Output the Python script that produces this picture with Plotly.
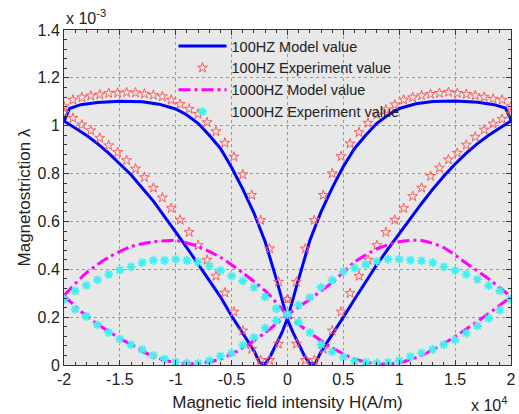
import plotly.graph_objects as go

# ---- 100 Hz model curve (H in 1e4 A/m, lambda in 1e-3) ----
h_model100_up = [-2.00, -1.95, -1.85, -1.70, -1.50, -1.30, -1.15, -1.00, -0.90, -0.80,
                 -0.70, -0.60, -0.50, -0.40, -0.30, -0.20, -0.10, 0.00,
                 0.05, 0.10, 0.15, 0.20, 0.25, 0.30,
                 0.40, 0.50, 0.60, 0.70, 0.80, 0.90, 1.00, 1.10, 1.20, 1.30, 1.40, 1.50,
                 1.60, 1.70, 1.80, 1.90, 2.00]
lam_model100_up = [1.018, 1.072, 1.088, 1.097, 1.102, 1.100, 1.090, 1.070, 1.045, 1.010,
                   0.960, 0.905, 0.825, 0.735, 0.635, 0.515, 0.360, 0.190,
                   0.135, 0.090, 0.040, 0.005, 0.008, 0.055,
                   0.125, 0.200, 0.275, 0.350, 0.420, 0.485, 0.550, 0.615, 0.675, 0.735, 0.790, 0.840,
                   0.885, 0.925, 0.960, 0.990, 1.020]

h_model100_down = [-2.00, -1.90, -1.80, -1.70, -1.60, -1.50, -1.40, -1.30, -1.20, -1.10,
                   -1.00, -0.90, -0.80, -0.70, -0.60, -0.50, -0.40, -0.30,
                   -0.25, -0.20, -0.15, -0.10, -0.05, 0.00,
                   0.10, 0.20, 0.30, 0.40, 0.50, 0.60, 0.70, 0.80, 0.90, 1.00,
                   1.15, 1.30, 1.50, 1.70, 1.85, 1.95, 2.00]
lam_model100_down = [1.020, 0.990, 0.960, 0.925, 0.885, 0.840, 0.795, 0.740, 0.685, 0.620,
                     0.555, 0.490, 0.425, 0.355, 0.285, 0.205, 0.130, 0.060,
                     0.010, 0.004, 0.040, 0.090, 0.135, 0.195,
                     0.360, 0.520, 0.640, 0.740, 0.830, 0.905, 0.960, 1.010, 1.045, 1.072,
                     1.092, 1.101, 1.103, 1.098, 1.088, 1.074, 1.025]

# ---- 100 Hz measured points ----
h_exp100 = [-2.00, -1.92, -1.84, -1.76, -1.68, -1.60, -1.52, -1.44, -1.36, -1.28,
            -1.20, -1.12, -1.04, -0.96, -0.88, -0.80, -0.72, -0.64, -0.56, -0.48,
            -0.40, -0.32, -0.24, -0.16, -0.08, 0.00, 0.08, 0.16, 0.24, 0.32,
            0.40, 0.48, 0.56, 0.64, 0.72, 0.80, 0.88, 0.96, 1.04, 1.12,
            1.20, 1.28, 1.36, 1.44, 1.52, 1.60, 1.68, 1.76, 1.84, 1.92, 2.00]
lam_exp100_up = [1.080, 1.108, 1.118, 1.125, 1.130, 1.136, 1.137, 1.139, 1.138, 1.133,
                 1.128, 1.122, 1.108, 1.090, 1.070, 1.049, 1.014, 0.976, 0.928, 0.870,
                 0.796, 0.710, 0.605, 0.486, 0.347, 0.275, 0.088, 0.020, 0.020, 0.067,
                 0.143, 0.222, 0.300, 0.372, 0.439, 0.500, 0.555, 0.606, 0.655, 0.705,
                 0.740, 0.789, 0.824, 0.858, 0.886, 0.920, 0.953, 0.983, 1.008, 1.028, 1.050]
lam_exp100_down = [1.053, 1.032, 1.004, 0.980, 0.949, 0.917, 0.889, 0.855, 0.820, 0.784,
                   0.740, 0.699, 0.655, 0.606, 0.555, 0.500, 0.439, 0.372, 0.302, 0.222,
                   0.143, 0.067, 0.020, 0.020, 0.088, 0.275, 0.347, 0.486, 0.605, 0.710,
                   0.800, 0.872, 0.925, 0.972, 1.011, 1.046, 1.067, 1.088, 1.108, 1.118,
                   1.126, 1.132, 1.136, 1.140, 1.136, 1.132, 1.126, 1.120, 1.112, 1.108, 1.080]

# ---- 1000 Hz model curve ----
h_model1000 = [-2.0, -1.8, -1.6, -1.4, -1.2, -1.0, -0.8, -0.6, -0.4, -0.2, 0.0,
               0.2, 0.4, 0.6, 0.8, 1.0, 1.2, 1.4, 1.6, 1.8, 2.0]
lam_model1000_up = [0.290, 0.385, 0.450, 0.495, 0.515, 0.520, 0.495, 0.450, 0.385, 0.310, 0.210,
                    0.135, 0.072, 0.025, 0.005, 0.010, 0.040, 0.090, 0.150, 0.215, 0.285]
lam_model1000_down = [0.290, 0.205, 0.140, 0.085, 0.035, 0.010, 0.006, 0.025, 0.070, 0.135, 0.210,
                      0.275, 0.345, 0.430, 0.485, 0.515, 0.520, 0.490, 0.425, 0.360, 0.285]

# ---- 1000 Hz measured points ----
h_exp1000 = [-2.0, -1.9, -1.8, -1.7, -1.6, -1.5, -1.4, -1.3, -1.2, -1.1,
             -1.0, -0.9, -0.8, -0.7, -0.6, -0.5, -0.4, -0.3, -0.2, -0.1,
             0.0, 0.1, 0.2, 0.3, 0.4, 0.5, 0.6, 0.7, 0.8, 0.9,
             1.0, 1.1, 1.2, 1.3, 1.4, 1.5, 1.6, 1.7, 1.8, 1.9, 2.0]
lam_exp1000_up = [0.275, 0.310, 0.333, 0.356, 0.379, 0.397, 0.410, 0.428, 0.437, 0.437,
                  0.442, 0.437, 0.430, 0.414, 0.395, 0.372, 0.351, 0.324, 0.285, 0.235,
                  0.212, 0.178, 0.136, 0.085, 0.055, 0.033, 0.016, 0.011, 0.008, 0.011,
                  0.018, 0.035, 0.050, 0.065, 0.085, 0.105, 0.133, 0.163, 0.195, 0.230, 0.275]
lam_exp1000_down = [0.275, 0.233, 0.203, 0.167, 0.136, 0.108, 0.085, 0.064, 0.040, 0.025,
                    0.012, 0.007, 0.007, 0.018, 0.037, 0.050, 0.083, 0.115, 0.155, 0.185,
                    0.212, 0.250, 0.282, 0.325, 0.355, 0.390, 0.405, 0.420, 0.433, 0.442,
                    0.442, 0.438, 0.435, 0.428, 0.410, 0.395, 0.379, 0.358, 0.332, 0.310, 0.275]

# ---- axis ticks ----
x_tickvals = [-2, -1.5, -1, -0.5, 0, 0.5, 1, 1.5, 2]
x_ticktext = ["-2", "-1.5", "-1", "-0.5", "0", "0.5", "1", "1.5", "2"]
y_tickvals = [0, 0.2, 0.4, 0.6, 0.8, 1.0, 1.2, 1.4]
y_ticktext = ["0", "0.2", "0.4", "0.6", "0.8", "1", "1.2", "1.4"]

FONT = "Liberation Sans, Arial, Helvetica, sans-serif"
DASHDOT = "12px,4px,3px,4px"

fig = go.Figure()

# 100 Hz model: closed butterfly loop (rising branch, then falling branch back)
fig.add_trace(go.Scatter(
    x=h_model100_up + h_model100_down[::-1],
    y=lam_model100_up + lam_model100_down[::-1],
    mode="lines", name="100HZ Model value",
    line=dict(color="#0000ff", width=3),
))

fig.add_trace(go.Scatter(
    x=h_exp100 + h_exp100,
    y=lam_exp100_up + lam_exp100_down,
    mode="markers", name="100HZ Experiment value",
    marker=dict(symbol="star-open", size=7.5, color="#ff5a5a", line=dict(width=1, color="#ff5050")),
))

fig.add_trace(go.Scatter(
    x=h_model1000, y=lam_model1000_up,
    mode="lines", name="1000HZ Model value", legendgroup="m1000",
    line=dict(color="#ff00ff", width=3, dash=DASHDOT, shape="spline", smoothing=0.8),
))
fig.add_trace(go.Scatter(
    x=h_model1000, y=lam_model1000_down,
    mode="lines", name="1000HZ Model value", legendgroup="m1000", showlegend=False,
    line=dict(color="#ff00ff", width=3, dash=DASHDOT, shape="spline", smoothing=0.8),
))

fig.add_trace(go.Scatter(
    x=h_exp1000 + h_exp1000,
    y=lam_exp1000_up + lam_exp1000_down,
    mode="markers", name="1000HZ Experiment value",
    marker=dict(symbol="asterisk-open", size=7.5, color="#40f0f0", line=dict(width=1.8, color="#40f0f0")),
))

axis_common = dict(
    showline=True, linecolor="#333333", linewidth=1, mirror="ticks",
    ticks="inside", ticklen=5, tickcolor="#333333", tickwidth=1,
    showgrid=True, gridcolor="#9a9a9a", griddash="dot", gridwidth=1,
    zeroline=False, automargin=False,
    tickfont=dict(family=FONT, size=16, color="#222222"),
)

fig.update_xaxes(
    range=[-2, 2], tickmode="array", tickvals=x_tickvals, ticktext=x_ticktext,
    minor=dict(dtick=0.1, ticks="inside", ticklen=3, tickcolor="#333333", showgrid=False),
    title=dict(text="Magnetic field intensity H(A/m)", font=dict(family=FONT, size=17, color="#222222"), standoff=8),
    **axis_common,
)
fig.update_yaxes(
    range=[0, 1.4], tickmode="array", tickvals=y_tickvals, ticktext=y_ticktext,
    minor=dict(dtick=0.04, ticks="inside", ticklen=3, tickcolor="#333333", showgrid=False),
    title=dict(text="Magnetostriction λ", font=dict(family=FONT, size=17, color="#222222"), standoff=2),
    **axis_common,
)

fig.update_layout(
    width=519, height=414,
    margin=dict(l=64, r=8, t=30, b=49),
    paper_bgcolor="white", plot_bgcolor="#e8e8e8",
    showlegend=True,
    legend=dict(
        x=0.245, y=1.0, xanchor="left", yanchor="top",
        bgcolor="rgba(0,0,0,0)", borderwidth=0,
        font=dict(family=FONT, size=14.5, color="#222222"),
        itemwidth=48, tracegroupgap=0,
    ),
    annotations=[
        dict(text="x 10<sup>-3</sup>", xref="paper", yref="paper", x=0.0, y=1.04,
             xanchor="left", yanchor="middle", showarrow=False,
             font=dict(family=FONT, size=16, color="#222222")),
        dict(text="x 10<sup>4</sup>", xref="paper", yref="paper", x=0.995, y=-0.115,
             xanchor="right", yanchor="middle", showarrow=False,
             font=dict(family=FONT, size=16, color="#222222")),
    ],
)

fig.write_html("out.html")
